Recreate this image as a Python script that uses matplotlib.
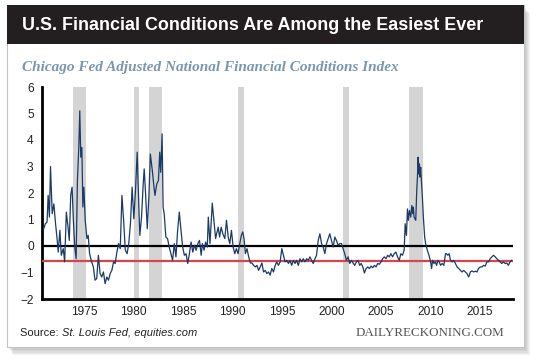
import numpy as np
import matplotlib
matplotlib.use("Agg")
from matplotlib import pyplot as plt
from matplotlib.patches import Rectangle

# ANFCI (year, index value)
years_early = [1970.93, 1971.10, 1971.27, 1971.38, 1971.51, 1971.62, 1971.79, 1971.96, 1972.13, 1972.30,
               1972.40, 1972.57, 1972.71, 1972.91, 1973.05, 1973.22, 1973.39, 1973.52, 1973.66, 1973.80,
               1973.93, 1974.07, 1974.21, 1974.34, 1974.48, 1974.58, 1974.68, 1974.79, 1974.89, 1974.99,
               1975.13, 1975.30, 1975.43, 1975.57, 1975.78, 1975.95, 1976.12, 1976.29, 1976.46, 1976.63,
               1976.80, 1976.97, 1977.14, 1977.31, 1977.48, 1977.65, 1977.82, 1977.99, 1978.16, 1978.33,
               1978.50, 1978.67, 1978.84, 1979.01, 1979.18, 1979.36, 1979.53, 1979.70, 1979.87, 1980.04,
               1980.21, 1980.38, 1980.55, 1980.65, 1980.82, 1980.99, 1981.09, 1981.23, 1981.40, 1981.57,
               1981.71, 1981.91, 1982.08, 1982.18, 1982.36, 1982.53, 1982.66, 1982.76, 1982.90, 1983.00,
               1983.11, 1983.28, 1983.45, 1983.62, 1983.79, 1983.96, 1984.13, 1984.30, 1984.47, 1984.64,
               1984.81, 1984.98, 1985.15, 1985.32, 1985.49, 1985.66, 1985.83, 1986.00, 1986.17, 1986.34,
               1986.51, 1986.68, 1986.85]
vals_early = [0.65, 0.84, 0.90, 1.91, 1.09, 3.00, 1.22, 1.59, 0.84, 0.21,
              -0.23, 0.59, -0.35, -0.10, -0.60, 1.28, 0.71, 0.21, 1.91, 2.22,
              0.97, -0.04, -0.48, 2.47, 3.72, 5.10, 3.35, 3.72, 1.47, 2.22,
              0.97, 0.28, 0.40, -0.29, -0.60, -0.79, -1.29, -1.23, -0.35, -1.04,
              -1.17, -0.98, -1.42, -1.17, -1.29, -1.04, -0.92, -0.60, -0.66, -0.23,
              0.09, -0.10, 1.91, 0.97, -0.16, -0.29, 0.09, 0.84, 2.22, 1.03,
              2.09, 3.54, 1.47, 0.40, 1.09, 2.34, 2.91, 1.97, 0.65, 1.91,
              3.47, 2.85, 2.22, 1.91, 2.34, 2.47, 3.54, 2.78, 4.23, 1.47,
              1.22, 0.34, 0.28, -0.04, -0.29, -0.54, 0.09, -0.41, 0.59, 1.28,
              0.59, -0.04, -0.35, -0.29, -0.66, -0.29, 0.15, -0.23, 0.03, -0.16,
              0.09, 0.21, -0.35]

years_mid = [1986.97, 1987.14, 1987.30, 1987.47, 1987.57, 1987.74, 1987.97, 1988.14, 1988.31, 1988.41,
             1988.57, 1988.71, 1988.87, 1989.04, 1989.24, 1989.41, 1989.58, 1989.74, 1989.91, 1990.08,
             1990.25, 1990.41, 1990.58, 1990.75, 1990.91, 1991.05, 1991.18, 1991.32, 1991.48, 1991.65,
             1991.82, 1991.98, 1992.15, 1992.32, 1992.49, 1992.65, 1992.82, 1992.99, 1993.15, 1993.32,
             1993.49, 1993.66, 1993.82, 1993.99, 1994.16, 1994.33, 1994.49, 1994.66, 1994.83, 1995.00,
             1995.16, 1995.33, 1995.50, 1995.67, 1995.83, 1996.00, 1996.17, 1996.34, 1996.50, 1996.67,
             1996.84, 1997.01, 1997.17, 1997.34, 1997.51, 1997.68, 1997.84, 1998.01, 1998.18, 1998.35,
             1998.51, 1998.68, 1998.85, 1999.02, 1999.18, 1999.35, 1999.52, 1999.69, 1999.85, 2000.02,
             2000.19, 2000.36, 2000.52, 2000.69, 2000.86, 2001.03, 2001.19, 2001.36, 2001.53, 2001.70,
             2001.87, 2002.03, 2002.20, 2002.37, 2002.54, 2002.70, 2002.87]
vals_mid = [0.09, -0.16, 0.15, -0.04, 1.09, 0.09, 1.62, 0.97, 0.28, 0.46,
            0.71, 0.34, 0.71, 0.46, 0.28, 0.97, 0.34, 0.09, 0.59, -0.04,
            -0.29, -0.10, -0.29, 0.09, 0.40, 0.53, 0.28, -0.29, -0.10, -0.41,
            -0.64, -0.64, -0.73, -0.79, -0.73, -0.92, -0.79, -0.64, -0.98, -0.92,
            -1.04, -0.98, -1.10, -0.85, -0.98, -0.73, -0.60, -0.73, -0.60, -0.10,
            -0.35, -0.60, -0.54, -0.66, -0.54, -0.73, -0.54, -0.66, -0.54, -0.73,
            -0.48, -0.60, -0.48, -0.60, -0.48, -0.54, -0.41, -0.54, -0.66, -0.48,
            -0.35, 0.21, 0.46, 0.09, -0.04, -0.29, 0.09, 0.28, 0.46, 0.21,
            -0.04, 0.34, 0.21, 0.03, 0.09, 0.09, -0.10, -0.29, -0.54, -0.41,
            -0.66, -0.54, -0.64, -0.73, -0.60, -0.54, -0.73]

years_late = [2003.02, 2003.19, 2003.35, 2003.52, 2003.69, 2003.86, 2004.02, 2004.19, 2004.36, 2004.53,
              2004.69, 2004.86, 2005.03, 2005.19, 2005.36, 2005.53, 2005.70, 2005.86, 2006.03, 2006.20,
              2006.36, 2006.53, 2006.70, 2006.87, 2007.03, 2007.20, 2007.37, 2007.47, 2007.60, 2007.70,
              2007.80, 2007.90, 2008.04, 2008.14, 2008.24, 2008.30, 2008.37, 2008.54, 2008.64, 2008.71,
              2008.77, 2008.84, 2008.91, 2008.97, 2009.04, 2009.11, 2009.21, 2009.31, 2009.44, 2009.54,
              2009.71, 2009.88, 2010.04, 2010.14, 2010.24, 2010.38, 2010.51, 2010.65, 2010.78, 2010.91,
              2011.05, 2011.21, 2011.38, 2011.55, 2011.65, 2011.78, 2011.92, 2012.05, 2012.22, 2012.38,
              2012.55, 2012.72, 2012.89, 2013.05, 2013.22, 2013.39, 2013.56, 2013.72, 2013.89, 2014.06,
              2014.22, 2014.39, 2014.56, 2014.73, 2014.89, 2015.06, 2015.23, 2015.39, 2015.56, 2015.73,
              2015.90, 2016.06, 2016.23, 2016.40, 2016.57, 2016.73, 2016.90, 2017.07, 2017.23, 2017.40,
              2017.57, 2017.74, 2017.90, 2018.07, 2018.24]
vals_late = [-0.66, -0.79, -1.02, -0.85, -0.79, -0.85, -0.76, -0.82, -0.73, -0.79,
             -0.66, -0.69, -0.60, -0.48, -0.41, -0.48, -0.35, -0.41, -0.29, -0.41,
             -0.29, -0.23, -0.41, -0.54, -0.29, -0.35, -0.16, 0.84, 0.40, 1.40,
             0.97, 1.34, 1.09, 1.53, 1.22, 1.47, 1.09, 0.97, 2.09, 2.60,
             3.35, 2.72, 3.10, 2.60, 2.97, 2.47, 1.84, 1.09, 0.34, 0.09,
             -0.16, -0.35, -0.60, -0.85, -0.54, -0.66, -0.60, -0.73, -0.54, -0.60,
             -0.73, -0.66, -0.73, -0.29, -0.29, -0.35, -0.29, -0.54, -0.60, -0.54,
             -0.66, -0.79, -0.85, -0.92, -0.98, -0.92, -0.98, -1.04, -1.17, -0.98,
             -0.94, -0.98, -0.95, -0.98, -0.85, -0.79, -0.79, -0.73, -0.76, -0.60,
             -0.60, -0.48, -0.41, -0.35, -0.41, -0.48, -0.54, -0.60, -0.66, -0.60,
             -0.66, -0.64, -0.73, -0.60, -0.54]

recessions = [(1973.87, 1975.16), (1980.04, 1980.58), (1981.57, 1982.90),
              (1990.58, 1991.22), (2001.18, 2001.78), (2007.87, 2009.31)]
avg_level = -0.57
year_ticks = [1975, 1980, 1985, 1990, 1995, 2000, 2005, 2010, 2015]
value_ticks = [-2, -1, 0, 1, 2, 3, 4, 5, 6]

title = "U.S. Financial Conditions Are Among the Easiest Ever"
subtitle = "Chicago Fed Adjusted National Financial Conditions Index"

years = np.array(years_early + years_mid + years_late)
vals = np.array(vals_early + vals_mid + vals_late)

sans = ["Liberation Sans", "DejaVu Sans"]
serif = ["Liberation Serif", "DejaVu Serif"]

fig = plt.figure(figsize=(5.4, 3.6), dpi=100)
fig.patch.set_facecolor("white")

# frame, shadow and title bar in pixel coords
bg = fig.add_axes([0, 0, 1, 1])
bg.set_xlim(0, 540)
bg.set_ylim(360, 0)
bg.axis("off")
for i in range(7):
    bg.add_patch(Rectangle((7 + 1.0 * i, 5 + 1.4 * i), 517, 342, facecolor="black",
                           edgecolor="none", alpha=0.045))
bg.add_patch(Rectangle((7, 5), 517, 342, facecolor="white", edgecolor="#c4c4c4", lw=0.8))
bg.add_patch(Rectangle((7, 5), 517, 39, facecolor="#231f20", edgecolor="none"))
bg.text(22, 26, title, color="white", fontsize=12.9, family=sans, weight="bold",
        va="center", ha="left")
bg.text(22, 68, subtitle, color="#7b97ad", fontsize=11, family=serif, style="italic",
        weight="bold", va="center", ha="left")
src = bg.text(20, 333, "Source: ", color="#222222", fontsize=8, family=sans, va="center")
fig.canvas.draw()
bb = src.get_window_extent()
x_next = bb.x1  # display px == data px horizontally here
bg.text(x_next, 333, "St. Louis Fed, equities.com", color="#222222", fontsize=8,
        family=sans, style="italic", va="center")
bg.text(504, 333, "DAILYRECKONING.COM", color="#555555", fontsize=9.4, family=serif,
        va="center", ha="right")

ax = fig.add_axes([42 / 540, 1 - 299 / 360, 471 / 540, 212 / 360])
ax.set_facecolor("none")
for a, b in recessions:
    ax.axvspan(a, b, color="#d4d4d4", lw=0, zorder=1)
ax.axhline(0, color="black", lw=1.6, zorder=2)
ax.axhline(avg_level, color="#d8434c", lw=1.6, zorder=3)
ax.plot(years, vals, color="#1b3a66", lw=0.9, zorder=4)

ax.set_xlim(1970.76, 2018.37)
ax.set_ylim(-2, 6)
ax.set_xticks(year_ticks)
ax.set_yticks(value_ticks)
for s in ["top", "right"]:
    ax.spines[s].set_visible(False)
for s in ["left", "bottom"]:
    ax.spines[s].set_linewidth(2)
    ax.spines[s].set_color("black")
ax.tick_params(length=0, labelsize=8.6, colors="#222222")
ax.tick_params(axis="y", pad=6)
ax.tick_params(axis="x", pad=5)
for lab in ax.get_xticklabels() + ax.get_yticklabels():
    lab.set_family(sans)

fig.savefig("out.png", dpi=100)
